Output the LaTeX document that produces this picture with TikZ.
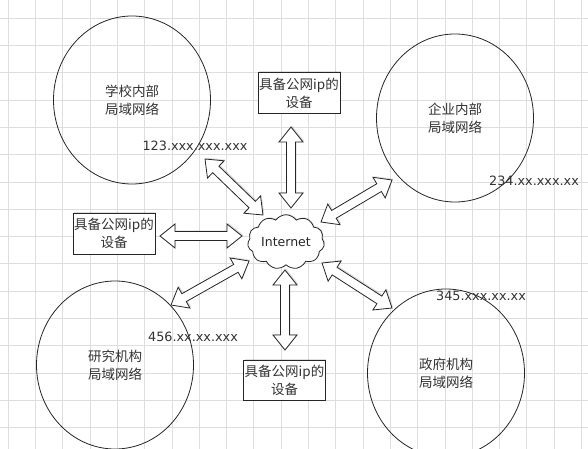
\documentclass[tikz,border=0pt]{standalone}
\usepackage{fontspec}
\usetikzlibrary{calc,shapes.geometric,shapes.symbols,shadows}
\newfontfamily\cjk{Noto Sans CJK SC}
\newfontfamily\dejavu{DejaVu Sans}
\def\ahl{15pt}
\def\ahw{12pt}
\def\asw{4.5pt}
\newcommand{\blockarrow}[2]{%
  \draw[blockarr] (#1)
    -- ($(#1)!\ahl!(#2)!\ahw!90:(#2)$)
    -- ($(#1)!\ahl!(#2)!\asw!90:(#2)$)
    -- ($(#2)!\ahl!(#1)!\asw!-90:(#1)$)
    -- ($(#2)!\ahl!(#1)!\ahw!-90:(#1)$)
    -- (#2)
    -- ($(#2)!\ahl!(#1)!\ahw!90:(#1)$)
    -- ($(#2)!\ahl!(#1)!\asw!90:(#1)$)
    -- ($(#1)!\ahl!(#2)!\asw!-90:(#2)$)
    -- ($(#1)!\ahl!(#2)!\ahw!-90:(#2)$)
    -- cycle;}
\tikzset{
  gridline/.style={draw=black!13, line width=0.5pt},
  lan/.style={draw=black!85, line width=0.8pt, ellipse, minimum width=157pt, minimum height=168pt,
    align=center, font=\cjk\fontsize{13.5}{18}\selectfont, text=black!80},
  devbox/.style={draw=black!85, line width=0.8pt, rectangle, fill=white, align=center,
    minimum width=82pt, minimum height=41pt, inner sep=1pt,
    font=\cjk\fontsize{13.5}{18}\selectfont, text=black!80,
    drop shadow={opacity=0.25, shadow xshift=1.2pt, shadow yshift=1.2pt}},
  iplabel/.style={font=\dejavu\fontsize{12.8}{14}\selectfont, text=black!80, inner sep=0pt},
  inet/.style={draw=black!85, line width=0.8pt, cloud, cloud puffs=11, cloud puff arc=110, aspect=1.6,
    minimum width=75pt, minimum height=47pt, inner sep=1pt, fill=white,
    font=\dejavu\fontsize{12.5}{14}\selectfont, text=black!85,
    drop shadow={opacity=0.2, shadow xshift=1pt, shadow yshift=1pt}},
  blockarr/.style={draw=black!85, line width=0.8pt, fill=white, line join=miter,
    drop shadow={opacity=0.25, shadow xshift=1.2pt, shadow yshift=1.2pt}}
}
\begin{document}
\begin{tikzpicture}[x=1pt,y=-1pt]
\useasboundingbox (0,0) rectangle (588,449);
\clip (0,0) rectangle (588,449);
\fill[white] (0,0) rectangle (588,449);
% grid
\foreach \i in {0,...,21} \draw[gridline] (8+27.3*\i,0) -- (8+27.3*\i,449);
\foreach \j in {0,...,16} \draw[gridline] (0,18+27.3*\j) -- (588,18+27.3*\j);
% LANs
\node[lan] (school) at (132,100) {学校内部\\局域网络};
\node[lan] (corp) at (455,118) {企业内部\\局域网络};
\node[lan] (research) at (115,365) {研究机构\\局域网络};
\node[lan] (gov) at (446,373) {政府机构\\局域网络};
% IP labels
\node[iplabel] (ip1) at (195,146) {123.xxx.xxx.xxx};
\node[iplabel] (ip2) at (534,181) {234.xx.xxx.xx};
\node[iplabel] (ip3) at (193,337) {456.xx.xx.xxx};
\node[iplabel] (ip4) at (481,296) {345.xxx.xx.xx};
% devices
\node[devbox] (devtop) at (299,93) {具备公网ip的\\设备};
\node[devbox] (devleft) at (114,233.5) {具备公网ip的\\设备};
\node[devbox, minimum width=81pt, minimum height=40pt] (devbottom) at (284.5,380) {具备公网ip的\\设备};
% internet
\node[inet] (internet) at (286,242) {Internet};
% arrow end points
\coordinate (a1s) at (291,127);  \coordinate (a1e) at (291,208);
\coordinate (a2s) at (205,159);  \coordinate (a2e) at (263,215);
\coordinate (a3s) at (160,236);  \coordinate (a3e) at (242,236);
\coordinate (a4s) at (321,222);  \coordinate (a4e) at (392,180);
\coordinate (a5s) at (171,305);  \coordinate (a5e) at (249,261);
\coordinate (a6s) at (285,270);  \coordinate (a6e) at (285,350);
\coordinate (a7s) at (322,263);  \coordinate (a7e) at (392,308);
\blockarrow{a1s}{a1e}
\blockarrow{a2s}{a2e}
\blockarrow{a3s}{a3e}
\blockarrow{a4s}{a4e}
\blockarrow{a5s}{a5e}
\blockarrow{a6s}{a6e}
\blockarrow{a7s}{a7e}
\end{tikzpicture}
\end{document}
